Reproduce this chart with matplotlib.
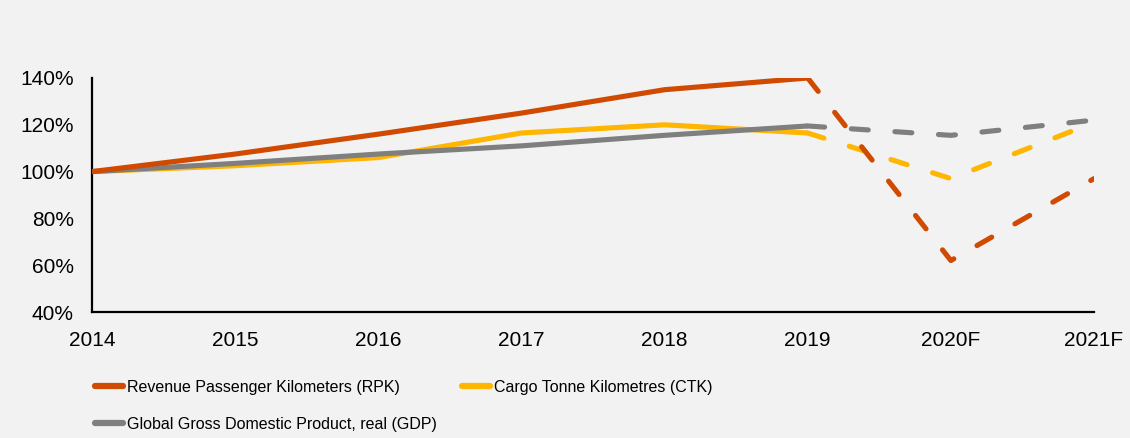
import matplotlib
matplotlib.use("Agg")
import matplotlib.pyplot as plt
from matplotlib.lines import Line2D

years = ["2014", "2015", "2016", "2017", "2018", "2019", "2020F", "2021F"]
rpk = [100, 107.5, 116, 125, 135, 140, 62, 97]
ctk = [100, 102.5, 106, 116.5, 120, 116.5, 97, 121]
gdp = [100, 103.5, 107.5, 111, 115.5, 119.5, 115.5, 122]
yticks = [40, 60, 80, 100, 120, 140]

names = ["Revenue Passenger Kilometers (RPK)", "Cargo Tonne Kilometres (CTK)",
         "Global Gross Domestic Product, real (GDP)"]
colors = ["#D04A02", "#FFB600", "#7F7F7F"]
series = [rpk, ctk, gdp]

plt.rcParams['font.family'] = ['Liberation Sans', 'DejaVu Sans']

bg = "#F2F2F2"
fig = plt.figure(figsize=(11.3, 4.38), dpi=100, facecolor=bg)
ax = fig.add_axes([92/1130, 1-312/438, (1094-92)/1130, (312-78)/438], facecolor=bg)

x = list(range(len(years)))
split = years.index("2019")
lw = 3.7
for idx in [1, 2, 0]:
    vals = series[idx]
    col = colors[idx]
    z = 2 if idx == 1 else 3
    ax.plot(x[:split+1], vals[:split+1], color=col, lw=lw, solid_capstyle='butt',
            solid_joinstyle='round', zorder=z)
    ax.plot(x[split:], vals[split:], color=col, lw=lw, linestyle=(0, (3.3, 5.2)),
            dash_capstyle='round', dash_joinstyle='round', zorder=z)

ax.set_xlim(0, len(years)-1)
ax.set_ylim(40, 140)
ax.set_xticks(x)
ax.set_xticklabels(years)
ax.set_yticks(yticks)
ax.set_yticklabels([f"{v}%" for v in yticks])
ax.tick_params(length=0, labelsize=15, colors="black")
ax.tick_params(axis='x', pad=14)
ax.tick_params(axis='y', pad=13)
for s in ["top", "right"]:
    ax.spines[s].set_visible(False)
for s in ["left", "bottom"]:
    ax.spines[s].set_color("black")
    ax.spines[s].set_linewidth(1.6)

hs = [Line2D([], [], color=c, lw=4.5, solid_capstyle='round') for c in colors]
order = [0, 2, 1]
fig.legend([hs[i] for i in order], [names[i] for i in order], ncol=2,
           loc="upper left", bbox_to_anchor=(95/1130, 1-380/438), frameon=False,
           prop={'size': 11.5},
           handlelength=1.75, handletextpad=0.25, columnspacing=1.6,
           labelspacing=1.35, borderpad=0, borderaxespad=0)

fig.savefig("out.png", dpi=100, facecolor=bg)
